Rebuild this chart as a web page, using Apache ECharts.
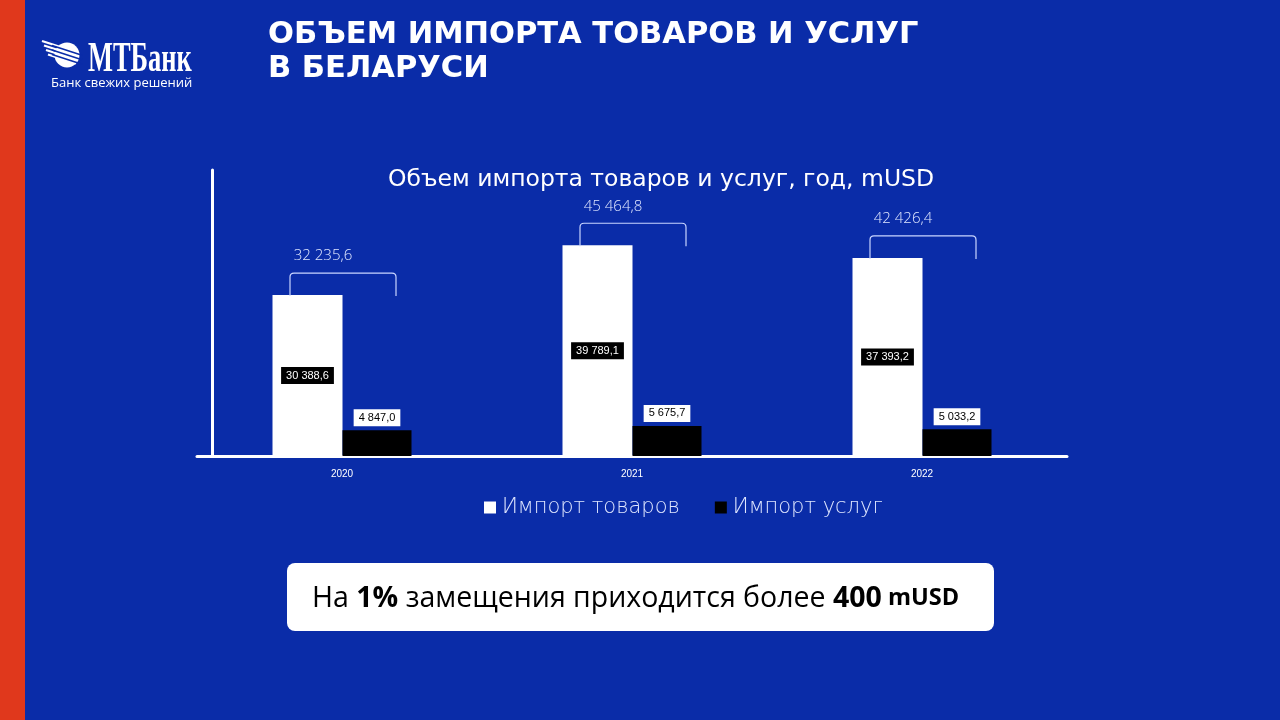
<!DOCTYPE html>
<html>
<head>
<meta charset="utf-8">
<script src="https://cdn.jsdelivr.net/npm/echarts@6/dist/echarts.min.js"></script>
<style>
  html, body { margin: 0; padding: 0; background: #0a2ca8; }
  #chart { width: 1280px; height: 720px; }
</style>
</head>
<body>
<div id="chart"></div>
<script>
const years = ['2020', '2021', '2022'];
const goods = [30388.6, 39789.1, 37393.2];
const services = [4847.0, 5675.7, 5033.2];
const totals = [32235.6, 45464.8, 42426.4];

const fmt = v => {
    const parts = v.toFixed(1).split('.');
    return parts[0].replace(/\B(?=(\d{3})+(?!\d))/g, ' ') + ',' + parts[1];
};

const blue = '#0a2ca8';
const pale = '#dfe6ff';

const chart = echarts.init(document.getElementById('chart'));

const option = {
    backgroundColor: blue,
    animation: false,
    title: {
        text: 'Объем импорта товаров и услуг, год, mUSD',
        left: 656,
        top: 163,
        textAlign: 'center',
        textStyle: {
            color: '#fff',
            fontFamily: 'DejaVu Sans',
            fontSize: 23.5,
            fontWeight: 'normal'
        }
    },
    legend: {
        left: 484,
        top: 497,
        padding: 0,
        icon: 'rect',
        itemWidth: 12,
        itemHeight: 12,
        itemGap: 35,
        data: ['Импорт товаров', 'Импорт услуг'],
        textStyle: {
            color: pale,
            fontFamily: 'DejaVu Sans',
            fontWeight: 200,
            fontSize: 21,
            padding: [0, 0, 0, 1]
        }
    },
    grid: {
        left: 197,
        right: 213,
        top: 170,
        bottom: 264
    },
    xAxis: {
        type: 'category',
        data: years,
        axisLine: { lineStyle: { color: '#fff', width: 3 } },
        axisTick: { show: false },
        axisLabel: {
            color: '#fff',
            fontFamily: 'Liberation Sans',
            fontSize: 10,
            margin: 13
        }
    },
    yAxis: {
        type: 'value',
        min: 0,
        max: 54000,
        offset: -15,
        axisLine: { show: true, lineStyle: { color: '#fff', width: 3 } },
        axisTick: { show: false },
        axisLabel: { show: false },
        splitLine: { show: false }
    },
    series: [
        {
            name: 'Импорт товаров',
            type: 'bar',
            data: goods,
            barWidth: 70,
            barGap: '0%',
            itemStyle: { color: '#fff' },
            label: {
                show: true,
                position: 'inside',
                formatter: p => fmt(p.value),
                color: '#fff',
                backgroundColor: '#000',
                padding: [3, 5],
                fontFamily: 'Liberation Sans',
                fontSize: 11
            }
        },
        {
            name: 'Импорт услуг',
            type: 'bar',
            data: services,
            barWidth: 69,
            itemStyle: { color: '#000' },
            label: {
                show: true,
                position: 'top',
                distance: 4,
                formatter: p => fmt(p.value),
                color: '#000',
                backgroundColor: '#fff',
                padding: [3, 5],
                fontFamily: 'Liberation Sans',
                fontSize: 11
            }
        },
        {
            // brackets showing the total above each year
            type: 'custom',
            silent: true,
            z: 5,
            data: years.map((y, i) => [i, goods[i], totals[i]]),
            renderItem: (params, api) => {
                const pt = api.coord([api.value(0), api.value(1)]);
                const cx = pt[0] + 1;
                const top = pt[1] - 22;
                const w = 106, leg = 23, r = 4;
                const x0 = cx - w / 2, x1 = cx + w / 2;
                const path = `M${x0} ${top + leg} L${x0} ${top + r} Q${x0} ${top} ${x0 + r} ${top} ` +
                    `L${x1 - r} ${top} Q${x1} ${top} ${x1} ${top + r} L${x1} ${top + leg}`;
                return {
                    type: 'group',
                    children: [
                        {
                            type: 'path',
                            shape: { pathData: path },
                            style: { stroke: '#c9d5ff', lineWidth: 1.2, fill: null }
                        },
                        {
                            type: 'text',
                            x: cx - 20,
                            y: top - 17,
                            style: {
                                text: fmt(api.value(2)),
                                fill: pale,
                                font: '300 15px "Open Sans"',
                                align: 'center',
                                verticalAlign: 'middle'
                            }
                        }
                    ]
                };
            }
        }
    ],
    graphic: [
        { type: 'rect', left: 0, top: 0, shape: { width: 25, height: 720 }, style: { fill: '#e0381c' } },
        {
            type: 'text', left: 268, top: 18,
            style: {
                text: 'ОБЪЕМ ИМПОРТА ТОВАРОВ И УСЛУГ\nВ БЕЛАРУСИ',
                fill: '#fff',
                font: 'bold 30.5px "DejaVu Sans"',
                lineHeight: 34
            }
        },
        // logo
        {
            type: 'group',
            children: [
                { type: 'line', shape: { x1: 42, y1: 41, x2: 70, y2: 50 }, style: { stroke: '#fff', lineWidth: 2.2 } },
                { type: 'line', shape: { x1: 44, y1: 45.5, x2: 72, y2: 54.5 }, style: { stroke: '#fff', lineWidth: 2.2 } },
                { type: 'line', shape: { x1: 46, y1: 50, x2: 74, y2: 59 }, style: { stroke: '#fff', lineWidth: 2.2 } },
                { type: 'line', shape: { x1: 48, y1: 54.5, x2: 76, y2: 63.5 }, style: { stroke: '#fff', lineWidth: 2.2 } },
                { type: 'circle', shape: { cx: 67, cy: 55, r: 12.5 }, style: { fill: '#fff' } },
                { type: 'line', shape: { x1: 52, y1: 45.6, x2: 82, y2: 55.3 }, style: { stroke: blue, lineWidth: 1.6 } },
                { type: 'line', shape: { x1: 52, y1: 50.1, x2: 82, y2: 59.8 }, style: { stroke: blue, lineWidth: 1.6 } },
                { type: 'line', shape: { x1: 52, y1: 54.6, x2: 82, y2: 64.3 }, style: { stroke: blue, lineWidth: 1.6 } }
            ]
        },
        {
            type: 'text', x: 88, y: 39, scaleX: 0.63,
            style: { text: 'МТБанк', fill: '#fff', font: 'bold 42px "Liberation Serif"' }
        },
        {
            type: 'text', left: 51, top: 77,
            style: { text: 'Банк свежих решений', fill: '#fff', font: '13px "Open Sans"' }
        },
        // bottom note
        {
            type: 'rect', left: 287, top: 563,
            shape: { width: 707, height: 68, r: 8 },
            style: { fill: '#fff' }
        },
        {
            type: 'text', left: 312, top: 584,
            style: {
                text: '{r|На }{b|1%}{r| замещения приходится более }{b|400}{s| mUSD}',
                rich: {
                    r: { fontFamily: 'Open Sans', fontSize: 28.5, fill: '#000', fontWeight: 'normal' },
                    b: { fontFamily: 'Open Sans', fontSize: 28.5, fill: '#000', fontWeight: 'bold' },
                    s: { fontFamily: 'Open Sans', fontSize: 23.5, fill: '#000', fontWeight: 'bold' }
                }
            }
        }
    ]
};

chart.setOption(option);
</script>
</body>
</html>
